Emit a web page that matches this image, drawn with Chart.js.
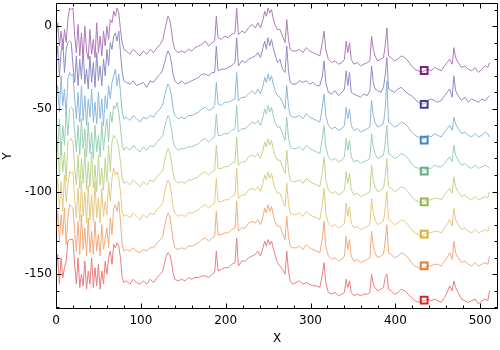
<!DOCTYPE html>
<html>
<head>
<meta charset="utf-8">
<script src="https://cdn.jsdelivr.net/npm/chart.js@4.4.1/dist/chart.umd.min.js"></script>
<style>
  html, body { margin: 0; padding: 0; background: #fff; }
  #wrap { width: 500px; height: 350px; }
</style>
</head>
<body>
<div id="wrap"><canvas id="chart" width="500" height="350"></canvas></div>
<script>
// shared x positions of the spectra
const xs = [0,2,4,6,8,10,12,14,16,18,20,22,24,26,28,30,32,34,36,38,40,42,44,46,48,50,52,54,56,58,60,62,64,66,68,70,72,74,76,78,80,
  83,87,91,95,99,103,107,111,115,119,123,
  126,128,130,132,134,136,138,140,
  144,148,152,156,160,164,168,172,176,180,184,187,189,191,195,199,203,207,211,213,215,219,223,227,231,235,
  238,241,244,246,248,250,252,254,256,258,261,264,267,270,272,274,276,279,
  283,287,291,295,299,303,307,311,314,316,318,321,325,329,333,337,340,342,344,346,348,351,355,359,363,367,370,
  372,374,376,379,383,386,388,390,392,395,399,403,407,411,415,419,423,427,431,434,438,442,446,450,454,458,
  461,464,467,469,471,474,478,482,486,490,494,498,502,506,509,511];

// one array per trace, top to bottom
const violet = [-8,2,-12,-3,-14,-2,-10,4,11,10,11,-6,-16,1,-18,-4,-19,0,-15,-20,-2,-17,-8,-19,2,-16,-6,-18,-3,-12,0,-8,4,2,9,6,11,8,-2,-10,-14,
  -15,-17,-14,-16,-18,-15,-17,-14,-16,-13,-11,
  -8,-3,2,6,4,-2,-10,-14,
  -16,-15,-16,-14,-15,-13,-12,-11,-9,-12,-10,-9,6,-7,-8,-6,-7,-5,-4,11,-5,-3,-4,-1,1,-1,
  2,-1,4,9,6,11,8,10,5,1,-2,-2,-6,-10,4,-8,-14,-15,
  -15,-14,-16,-13,-15,-16,-17,-18,-10,-3,-14,-20,-22,-21,-23,-22,-20,-9,-16,-10,-20,-23,-22,-24,-23,-22,-21,
  -6,-14,-18,-21,-20,-19,-12,-1,-18,-19,-21,-20,-18,-19,-21,-24,-26,-27,-28,-27,-26,-27,-25,-26,-27,-24,
  -22,-20,-23,-13,-19,-22,-25,-24,-26,-27,-25,-28,-26,-24,-25,-22];
const indigo = [-22,-12,-30,-16,-8,-28,-14,-10,-9,-10,-24,-34,-18,-36,-20,-32,-14,-35,-26,-38,-18,-34,-22,-37,-16,-33,-24,-36,-20,-30,-14,-24,-10,-14,-6,-4,-9,-3,-16,-28,-33,
  -34,-35,-33,-36,-35,-34,-37,-33,-34,-31,-29,
  -26,-22,-18,-15,-17,-22,-29,-33,
  -35,-33,-35,-34,-33,-32,-31,-29,-29,-30,-28,-28,-12,-27,-26,-26,-25,-24,-22,-7,-24,-21,-22,-20,-19,-18,
  -16,-19,-13,-9,-14,-7,-12,-8,-13,-17,-22,-20,-26,-28,-12,-27,-34,-35,
  -35,-33,-34,-33,-35,-34,-36,-36,-30,-21,-34,-40,-41,-39,-42,-40,-38,-27,-36,-28,-40,-41,-42,-43,-41,-42,-39,
  -24,-34,-38,-39,-40,-37,-30,-19,-38,-39,-40,-38,-37,-39,-41,-42,-44,-46,-47,-47,-45,-44,-45,-46,-45,-42,
  -40,-38,-43,-30,-39,-42,-45,-43,-46,-44,-45,-46,-44,-45,-43,-42];
const blue = [-46,-36,-52,-30,-48,-38,-54,-32,-28,-30,-29,-44,-56,-40,-58,-36,-57,-42,-60,-44,-55,-38,-58,-46,-59,-40,-56,-44,-60,-42,-50,-36,-44,-34,-30,-26,-36,-29,-40,-52,-56,
  -55,-57,-54,-56,-58,-55,-56,-54,-55,-52,-50,
  -47,-42,-38,-35,-37,-42,-50,-54,
  -56,-55,-56,-54,-54,-53,-52,-50,-49,-51,-50,-48,-34,-47,-48,-46,-46,-45,-44,-28,-45,-43,-43,-41,-39,-41,
  -38,-41,-36,-31,-34,-29,-33,-30,-35,-39,-42,-43,-46,-50,-36,-48,-54,-55,
  -55,-54,-56,-53,-55,-56,-57,-58,-49,-41,-54,-60,-62,-61,-63,-62,-60,-49,-56,-50,-60,-63,-62,-64,-63,-62,-61,
  -45,-54,-58,-61,-60,-59,-50,-33,-58,-59,-61,-60,-58,-59,-61,-64,-66,-67,-68,-68,-66,-67,-65,-66,-67,-64,
  -62,-60,-63,-55,-59,-62,-65,-64,-66,-67,-65,-67,-66,-64,-65,-67];
const teal = [-62,-74,-56,-78,-60,-72,-52,-66,-50,-49,-50,-64,-76,-60,-78,-56,-74,-62,-79,-58,-77,-64,-80,-60,-76,-66,-79,-58,-75,-64,-56,-70,-52,-58,-48,-50,-46,-52,-61,-72,-75,
  -73,-75,-72,-74,-76,-73,-75,-72,-73,-70,-68,
  -66,-61,-57,-54,-56,-62,-69,-73,
  -75,-74,-74,-73,-73,-72,-71,-69,-68,-70,-68,-67,-53,-66,-66,-65,-65,-63,-62,-48,-64,-62,-62,-60,-58,-59,
  -57,-60,-55,-50,-53,-48,-52,-49,-54,-58,-61,-61,-65,-69,-55,-67,-73,-74,
  -74,-73,-75,-72,-74,-75,-76,-77,-68,-60,-73,-79,-81,-80,-82,-81,-79,-68,-75,-69,-79,-82,-81,-83,-82,-81,-80,
  -65,-73,-77,-80,-79,-78,-71,-60,-77,-78,-80,-79,-77,-78,-80,-83,-85,-86,-88,-87,-86,-86,-84,-85,-85,-83,
  -81,-79,-82,-72,-78,-81,-84,-83,-85,-86,-84,-86,-85,-84,-85,-86];
const green = [-84,-72,-90,-70,-88,-76,-94,-70,-69,-68,-70,-86,-96,-78,-98,-80,-95,-74,-99,-82,-97,-76,-98,-84,-100,-78,-96,-86,-99,-80,-94,-72,-88,-70,-66,-68,-69,-74,-82,-92,-95,
  -94,-96,-93,-95,-97,-94,-96,-93,-94,-91,-89,
  -87,-82,-77,-74,-76,-82,-89,-93,
  -95,-94,-95,-93,-93,-92,-91,-89,-88,-90,-88,-87,-72,-86,-86,-85,-85,-83,-82,-67,-84,-82,-82,-79,-78,-79,
  -77,-80,-75,-70,-73,-68,-72,-69,-74,-78,-81,-81,-85,-89,-75,-87,-93,-94,
  -94,-93,-95,-92,-94,-95,-96,-97,-88,-79,-93,-99,-101,-100,-102,-101,-99,-88,-95,-89,-99,-102,-101,-103,-102,-101,-100,
  -84,-93,-97,-100,-99,-98,-91,-80,-97,-98,-100,-99,-97,-98,-100,-103,-105,-106,-107,-106,-105,-105,-104,-104,-105,-102,
  -100,-98,-101,-91,-97,-100,-103,-102,-104,-105,-103,-105,-104,-103,-104,-100];
const yellow = [-104,-92,-110,-94,-112,-90,-106,-96,-88,-89,-88,-104,-116,-98,-118,-94,-115,-100,-119,-96,-117,-102,-118,-94,-116,-104,-119,-98,-115,-106,-114,-94,-106,-92,-86,-90,-88,-92,-100,-112,-115,
  -114,-116,-113,-115,-117,-114,-116,-113,-114,-111,-109,
  -107,-101,-96,-93,-95,-101,-109,-113,
  -115,-114,-115,-113,-113,-112,-111,-109,-108,-110,-108,-107,-92,-106,-106,-105,-105,-103,-102,-86,-104,-102,-102,-99,-98,-99,
  -97,-100,-95,-90,-93,-88,-92,-89,-94,-98,-101,-101,-105,-109,-95,-107,-113,-114,
  -114,-113,-115,-112,-114,-115,-116,-117,-108,-98,-113,-119,-121,-120,-122,-121,-119,-107,-115,-109,-119,-122,-121,-123,-122,-121,-120,
  -104,-113,-117,-120,-119,-118,-110,-100,-117,-118,-120,-119,-117,-118,-120,-123,-125,-126,-127,-126,-125,-125,-124,-124,-125,-122,
  -120,-117,-121,-110,-117,-120,-123,-122,-124,-125,-123,-125,-124,-123,-124,-121];
const orange = [-124,-112,-130,-114,-126,-110,-132,-116,-108,-109,-110,-124,-136,-118,-138,-114,-135,-122,-139,-116,-137,-124,-138,-118,-136,-126,-139,-120,-135,-128,-122,-134,-116,-126,-110,-108,-112,-106,-118,-132,-136,
  -135,-136,-134,-136,-137,-135,-136,-134,-134,-131,-129,
  -127,-121,-116,-113,-115,-121,-129,-134,
  -135,-134,-135,-133,-133,-132,-131,-129,-128,-130,-128,-127,-112,-126,-126,-125,-125,-123,-122,-106,-124,-122,-122,-119,-118,-119,
  -117,-120,-115,-110,-113,-108,-112,-109,-114,-118,-121,-121,-125,-129,-115,-127,-133,-134,
  -134,-133,-135,-132,-134,-135,-136,-137,-128,-118,-133,-139,-141,-140,-142,-141,-139,-127,-135,-129,-139,-142,-141,-143,-142,-141,-140,
  -124,-133,-137,-140,-139,-138,-130,-120,-137,-138,-140,-139,-137,-138,-140,-143,-145,-146,-147,-146,-145,-145,-144,-144,-145,-142,
  -140,-137,-141,-130,-137,-140,-143,-142,-144,-145,-143,-145,-144,-143,-144,-139];
const red = [-150,-138,-156,-140,-152,-146,-142,-130,-129,-129,-129,-144,-156,-140,-158,-150,-157,-142,-159,-148,-156,-140,-158,-146,-157,-144,-159,-148,-156,-142,-150,-140,-136,-144,-132,-134,-131,-133,-140,-152,-155,
  -154,-156,-153,-155,-156,-154,-156,-153,-155,-152,-150,
  -148,-143,-139,-137,-138,-142,-149,-153,
  -154,-153,-154,-152,-153,-152,-152,-151,-151,-152,-150,-149,-136,-148,-147,-146,-146,-144,-143,-128,-145,-142,-142,-140,-139,-138,
  -136,-139,-134,-130,-133,-129,-132,-130,-134,-138,-143,-145,-147,-150,-136,-148,-154,-156,
  -155,-154,-156,-155,-156,-157,-157,-158,-150,-143,-155,-161,-162,-161,-163,-162,-161,-153,-158,-154,-161,-163,-162,-163,-162,-162,-161,
  -150,-156,-158,-160,-159,-158,-152,-150,-159,-160,-162,-161,-159,-160,-162,-164,-166,-167,-166,-166,-165,-166,-165,-166,-167,-164,
  -161,-157,-160,-154,-158,-161,-165,-166,-167,-166,-165,-168,-166,-165,-166,-160];

// square markers, one per trace
const markerX = 434;
const markerY = [-26.8, -47.3, -68.9, -87.6, -106.2, -125.7, -144.9, -165.6];

const traces = [violet, indigo, blue, teal, green, yellow, orange, red];
const lineColors = ['#b07ab9', '#8f8bc6', '#8cb8dc', '#9acfb6', '#bed58c', '#e4ca80', '#f2ab7b', '#e97f7f'];
const markerColors = ['#7f1f7f', '#403e97', '#3f86c2', '#5fae85', '#90b84f', '#d6b23a', '#e87b2a', '#d92626'];

const FONT = { family: 'DejaVu Sans', size: 12 };

const datasets = [];
traces.forEach((ys, i) => {
  datasets.push({
    type: 'line',
    data: xs.map((x, j) => ({ x: x, y: ys[j] })),
    borderColor: lineColors[i],
    borderWidth: 1,
    pointRadius: 0,
    tension: 0,
    fill: false,
    order: 2
  });
});
markerY.forEach((y, i) => {
  datasets.push({
    type: 'scatter',
    data: [{ x: markerX, y: y }],
    pointStyle: 'rect',
    pointRadius: 4.8,
    pointBorderWidth: 2,
    pointBorderColor: markerColors[i],
    pointBackgroundColor: 'rgba(0,0,0,0)',
    order: 1
  });
});

// box frame with inward ticks on all four sides
const frameTicks = {
  id: 'frameTicks',
  afterDatasetsDraw(chart) {
    const { ctx, chartArea: a, scales } = chart;
    const L = Math.round(a.left) + 0.5, R = Math.round(a.right) - 0.5;
    const T = Math.round(a.top) + 0.5, B = Math.round(a.bottom) - 0.5;
    ctx.save();
    ctx.strokeStyle = '#000';
    ctx.lineWidth = 1;
    ctx.beginPath();
    ctx.rect(L, T, R - L, B - T);
    for (let v = 0; v <= scales.x.max; v += 20) {
      const px = Math.round(scales.x.getPixelForValue(v)) + 0.5;
      const len = v % 100 === 0 ? 5 : 3;
      ctx.moveTo(px, B); ctx.lineTo(px, B - len);
      ctx.moveTo(px, T); ctx.lineTo(px, T + len);
    }
    for (let v = -170; v <= scales.y.max; v += 10) {
      const py = Math.round(scales.y.getPixelForValue(v)) + 0.5;
      const len = v % 50 === 0 ? 5 : 3;
      ctx.moveTo(L, py); ctx.lineTo(L + len, py);
      ctx.moveTo(R, py); ctx.lineTo(R - len, py);
    }
    ctx.stroke();
    ctx.restore();
  }
};

new Chart(document.getElementById('chart'), {
  data: { datasets: datasets },
  options: {
    responsive: false,
    devicePixelRatio: 1,
    animation: false,
    layout: { autoPadding: false, padding: { left: 0, right: 2, top: 3, bottom: 0 } },
    plugins: { legend: { display: false }, tooltip: { enabled: false } },
    scales: {
      x: {
        type: 'linear',
        min: 0,
        max: 521,
        grid: { display: false, drawTicks: false },
        border: { display: false },
        ticks: { stepSize: 100, includeBounds: false, padding: 5, color: '#000', font: FONT, maxRotation: 0 },
        title: { display: true, text: 'X', color: '#000', font: FONT, padding: { top: 0, bottom: 4 } },
        afterFit: (s) => { s.height = 41; s.paddingLeft = 0; s.paddingRight = 0; }
      },
      y: {
        type: 'linear',
        min: -171,
        max: 14,
        grid: { display: false, drawTicks: false },
        border: { display: false },
        ticks: { stepSize: 50, includeBounds: false, padding: 4, color: '#000', font: FONT },
        title: { display: true, text: 'Y', color: '#000', font: FONT, padding: { top: 1, bottom: 0 } },
        afterFit: (s) => { s.width = 56; s.paddingTop = 0; s.paddingBottom = 0; }
      }
    }
  },
  plugins: [frameTicks]
});
</script>
</body>
</html>
